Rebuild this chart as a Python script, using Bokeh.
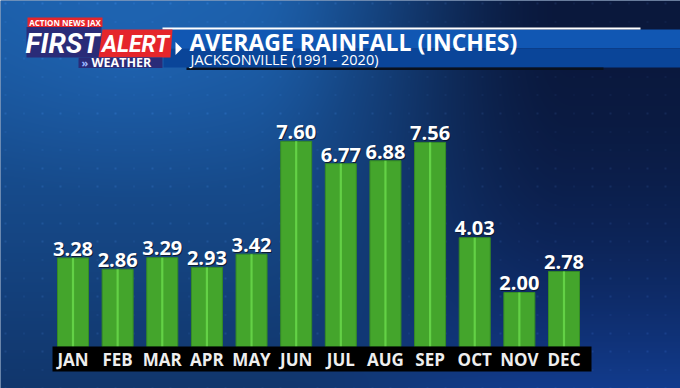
import numpy as np
from bokeh.plotting import figure
from bokeh.models import Range1d, ColumnDataSource
from bokeh.core.properties import value
from bokeh.embed import file_html
from bokeh.resources import INLINE

# ---- data ----
months = ["JAN", "FEB", "MAR", "APR", "MAY", "JUN", "JUL", "AUG", "SEP", "OCT", "NOV", "DEC"]
rainfall = [3.28, 2.86, 3.29, 2.93, 3.42, 7.60, 6.77, 6.88, 7.56, 4.03, 2.00, 2.78]
title_text = "AVERAGE RAINFALL (INCHES)"
subtitle_text = "JACKSONVILLE (1991 - 2020)"
logo_top = "ACTION NEWS JAX"
logo_first = "FIRST"
logo_alert = "ALERT"
logo_weather = "WEATHER"

# ---- layout helpers (reference pixel -> data) ----
W, H = 680, 388
X0, STEP = 72.5, 44.636     # px of first category centre, px per category
BASE, PPI = 346.0, 27.0     # px (from top) of zero line, px per inch
K = 0.36                    # baseline correction (fraction of font size)


def X(rx):
    return (rx - X0) / STEP


def Y(ry):
    return (BASE - ry) / PPI


def TY(ry, size):
    # y for a text baseline that should sit at reference pixel ry
    return Y(ry - K * size)


p = figure(width=W, height=H, x_range=Range1d(X(0), X(W)), y_range=Range1d(Y(H), Y(0)),
           output_backend="svg", toolbar_location=None, min_border=0,
           border_fill_color="#12407f", background_fill_color="#12407f")
p.axis.visible = False
p.grid.visible = False
p.outline_line_color = None

# ---- background gradient ----
rx = np.arange(W)[None, :] + 0.0
ry = np.arange(H)[:, None] + 0.0           # top -> bottom
t = np.clip((rx - 240.0) / 330.0, 0, 1)
t = t * t * (3 - 2 * t)
vy = ry / 388.0
top_l = np.array([28, 94, 168.0]); bot_l = np.array([17, 54, 108.0])
top_r = np.array([10, 24, 60.0]); bot_r = np.array([18, 60, 142.0])
L = top_l + (bot_l - top_l) * vy[..., None]
R = top_r + (bot_r - top_r) * (vy[..., None] ** 2.2)
col = L * (1 - t[..., None]) + R * t[..., None]
d = np.sqrt(((rx - 130) / 220.0) ** 2 + ((ry - 60) / 140.0) ** 2)
col = col + np.clip(1 - d, 0, 1)[..., None] * np.array([4, 10, 16.0])
mx = ((rx - 4.0) % 18.33) < 1.6
my = ((ry - 1.7) % 18.33) < 1.6
dots = (mx & my)
col = col + dots[..., None] * np.array([10, 14, 20.0])
col = np.clip(col, 0, 255).astype(np.uint8)
img = np.zeros((H, W), dtype=np.uint32)
view = img.view(dtype=np.uint8).reshape((H, W, 4))
view[..., 0] = col[..., 0]
view[..., 1] = col[..., 1]
view[..., 2] = col[..., 2]
view[..., 3] = 255
img = img[::-1]
p.image_rgba(image=[img], x=X(0), y=Y(H), dw=X(W) - X(0), dh=Y(0) - Y(H))

# ---- bars ----
VAL_SIZE = 20
lab_shift = (2 + K * VAL_SIZE) / PPI
src = ColumnDataSource(dict(x=list(range(len(months))), top=rainfall, month=months,
                            label=[f"{v:.2f}" for v in rainfall],
                            label_y=[v + lab_shift for v in rainfall]))
p.vbar(x="x", top="top", bottom=0, width=31 / STEP, source=src,
       fill_color="#44a52c", line_color="#358a25", line_width=1)
p.vbar(x="x", top="top", bottom=0, width=2.2 / STEP, source=src,
       fill_color="#63d146", line_color=None)

# value labels
p.text(x="x", y="label_y", text="label", source=src, x_offset=1, y_offset=1,
       text_align="center", text_baseline="alphabetic", text_color="#0a1428", text_alpha=0.85,
       text_font=value("Open Sans"), text_font_style="bold", text_font_size=f"{VAL_SIZE}px")
p.text(x="x", y="label_y", text="label", source=src,
       text_align="center", text_baseline="alphabetic", text_color="white",
       text_font=value("Open Sans"), text_font_style="bold", text_font_size=f"{VAL_SIZE}px")

# month band
p.quad(left=X(52), right=X(591), bottom=Y(371), top=Y(346), fill_color="black", line_color=None)
p.text(x="x", y=TY(365.5, 17), text="month", source=src, text_align="center", text_baseline="alphabetic",
       text_color="#eeeeee", text_font=value("Open Sans"), text_font_style="bold", text_font_size="17px")

# ---- title band ----
p.quad(left=X(163), right=X(690), top=Y(29), bottom=Y(48), fill_color="#1157b3", line_color=None)
p.quad(left=X(163), right=X(690), top=Y(48), bottom=Y(67), fill_color="#0a4599", line_color=None)
p.quad(left=X(162), right=X(640), top=Y(27), bottom=Y(29), fill_color="white", line_color=None)
p.quad(left=X(186), right=X(603), top=Y(67), bottom=Y(69.5), fill_color="#08101e", line_color=None)
p.patch(x=[X(175), X(181.5), X(175)], y=[Y(41.5), Y(48), Y(54.5)], fill_color="white", line_color=None)
p.text(x=X(189), y=TY(49.5, 23), text=[title_text], text_align="left", text_baseline="alphabetic",
       text_color="white", text_font=value("Open Sans"), text_font_style="bold", text_font_size="23px")
p.text(x=X(190), y=TY(64.5, 14.5), text=[subtitle_text], text_align="left", text_baseline="alphabetic",
       text_color="white", text_font=value("Open Sans"), text_font_size="14.5px")

# ---- logo ----
p.patch(x=[X(27), X(102), X(102), X(27)], y=[Y(17), Y(17), Y(26.5), Y(26.5)],
        fill_color="#e5262b", line_color=None)
p.text(x=X(64.5), y=TY(25, 8), text=[logo_top], text_align="center", text_baseline="alphabetic",
       text_color="white", text_font=value("Open Sans"), text_font_style="bold", text_font_size="8px")
p.patch(x=[X(26), X(101), X(101), X(26)], y=[Y(26.5), Y(26.5), Y(57), Y(57)],
        fill_color="#2a2c78", line_color=None)
p.text(x=X(62), y=TY(53.5, 28), text=[logo_first], text_align="center", text_baseline="alphabetic",
       text_color="white", text_font=value("Roboto"), text_font_style="bold italic",
       text_font_size="28px")
p.patch(x=[X(102), X(172), X(170), X(98)], y=[Y(29), Y(29), Y(57), Y(57)],
        fill_color="#e5262b", line_color=None)
p.text(x=X(135), y=TY(52, 23), text=[logo_alert], text_align="center", text_baseline="alphabetic",
       text_color="white", text_font=value("Roboto"), text_font_style="bold italic",
       text_font_size="23px")
p.patch(x=[X(78), X(162), X(162), X(78)], y=[Y(57), Y(57), Y(67.5), Y(67.5)],
        fill_color="#2a2c78", line_color=None)
p.text(x=X(81), y=TY(65.5, 11), text=["»"], text_align="left", text_baseline="alphabetic",
       text_color="#9bb8ff", text_font=value("Open Sans"), text_font_style="bold", text_font_size="11px")
p.text(x=X(91), y=TY(66, 12.5), text=[logo_weather], text_align="left", text_baseline="alphabetic",
       text_color="white", text_font=value("Open Sans"), text_font_style="bold", text_font_size="12.5px")

open("out.html", "w").write(file_html(p, INLINE))
